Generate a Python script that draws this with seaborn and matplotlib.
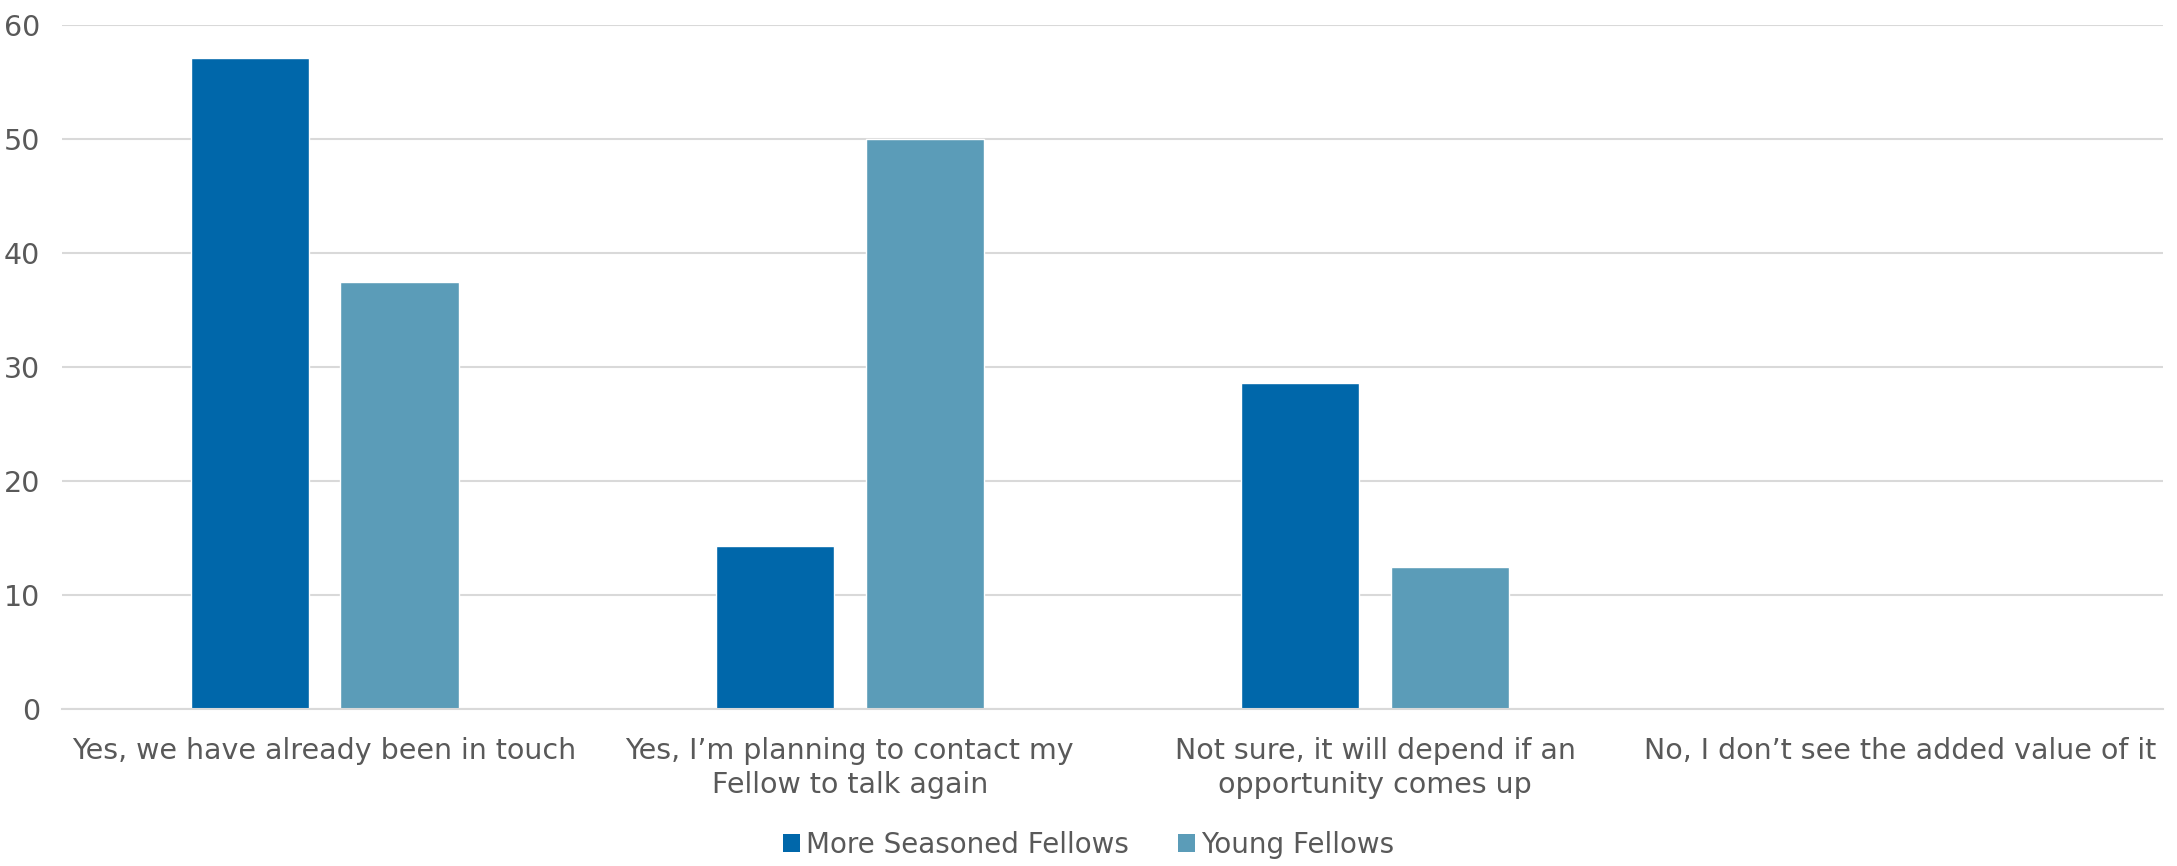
import matplotlib
matplotlib.use("Agg")
import matplotlib.pyplot as plt
import seaborn as sns
import pandas as pd
from matplotlib.patches import Patch

categories = [
    "Yes, we have already been in touch",
    "Yes, I\u2019m planning to contact my\nFellow to talk again",
    "Not sure, it will depend if an\nopportunity comes up",
    "No, I don\u2019t see the added value of it",
]
series_names = ["More Seasoned Fellows", "Young Fellows"]
seasoned = [57.1, 14.3, 28.6, 0.0]
young = [37.5, 50.0, 12.5, 0.0]
colors = ["#0067AA", "#5B9CB8"]

df = pd.DataFrame({
    "cat": categories * 2,
    "series": [series_names[0]] * 4 + [series_names[1]] * 4,
    "value": seasoned + young,
})

sns.set_theme(style="white")
plt.rcParams["font.family"] = ["DejaVu Sans"]
text_color = "#595959"

fig = plt.figure(figsize=(21.77, 8.66), dpi=100)
ax = fig.add_axes([62 / 2177, 1 - 709 / 866, (2163 - 62) / 2177, (709 - 25) / 866])

sns.barplot(data=df, x="cat", y="value", hue="series", order=categories,
            hue_order=series_names, palette=colors, width=0.57, gap=0.21,
            saturation=1, ax=ax, legend=False)

ax.set_ylim(0, 60)
ax.set_xlim(-0.5, 3.5)
ax.set_yticks(range(0, 61, 10))
ax.yaxis.grid(True, color="#D9D9D9", linewidth=1.5)
ax.set_axisbelow(True)
for s in ["top", "right", "left"]:
    ax.spines[s].set_visible(False)
ax.spines["bottom"].set_color("#D9D9D9")
ax.spines["bottom"].set_linewidth(1.5)
ax.set_xlabel("")
ax.set_ylabel("")
ax.tick_params(axis="both", length=0, colors=text_color, labelsize=20.5)
ax.tick_params(axis="x", pad=20)
ax.tick_params(axis="y", pad=16)
for lbl in ax.get_xticklabels():
    lbl.set_linespacing(1.3)

handles = [Patch(facecolor=c, edgecolor="none") for c in colors]
leg = fig.legend(handles, series_names, loc="center", bbox_to_anchor=(0.5, 1 - 845 / 866),
                 ncol=2, frameon=False, fontsize=20, handlelength=0.6, handleheight=0.6,
                 handletextpad=0.2, columnspacing=1.8)
for t in leg.get_texts():
    t.set_color(text_color)

fig.savefig("out.png", dpi=100)
